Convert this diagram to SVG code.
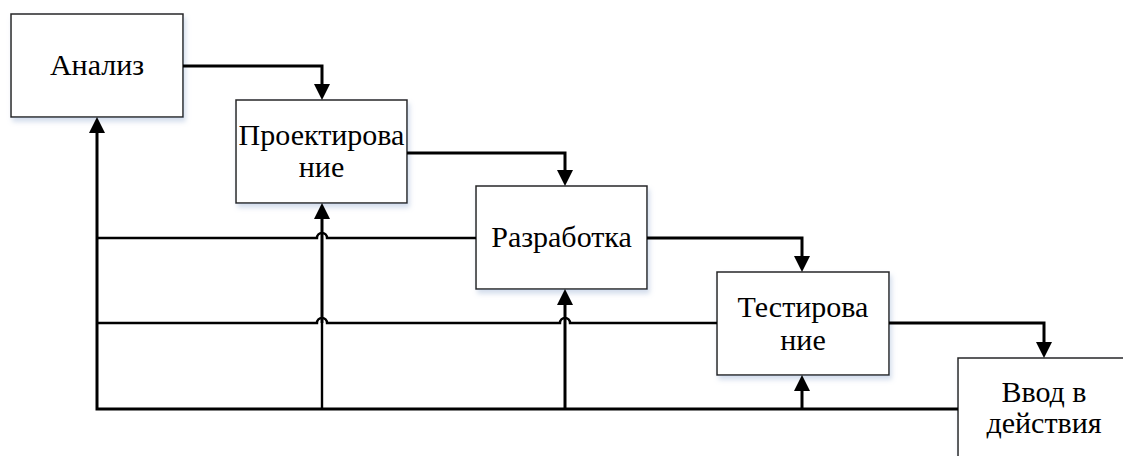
<svg xmlns="http://www.w3.org/2000/svg" width="1123" height="456" viewBox="0 0 1123 456">
  <defs>
    <filter id="shadow" x="-10%" y="-10%" width="130%" height="140%">
      <feDropShadow dx="2" dy="4" stdDeviation="2.5" flood-color="#9db4d4" flood-opacity="0.45"/>
    </filter>
    <marker id="arrow" markerUnits="userSpaceOnUse" markerWidth="17" markerHeight="17" refX="0" refY="8" orient="auto" overflow="visible">
      <path d="M0,0 L16,8 L0,16 Z" fill="#000"/>
    </marker>
    <style>
      .box { fill: #fff; stroke: #262626; stroke-width: 1.5; }
      .wire { fill: none; stroke: #000; stroke-linejoin: miter; }
      .thick { stroke-width: 3; }
      .thin { stroke-width: 2.4; }
    </style>
  </defs>

  <rect width="1123" height="456" fill="#fff"/>

  <!-- stages -->
  <g id="analysis">
    <rect class="box" x="11" y="14" width="172" height="103" filter="url(#shadow)"/>
    <text x="97" y="75" font-family="Liberation Serif, serif" font-size="30" text-anchor="middle">Анализ</text>
  </g>
  <g id="design">
    <rect class="box" x="236" y="100" width="171" height="103" filter="url(#shadow)"/>
    <text x="321.5" y="145" font-family="Liberation Serif, serif" font-size="30" text-anchor="middle">Проектирова</text>
    <text x="321.5" y="177" font-family="Liberation Serif, serif" font-size="30" text-anchor="middle">ние</text>
  </g>
  <g id="development">
    <rect class="box" x="476" y="186" width="171" height="103" filter="url(#shadow)"/>
    <text x="561.5" y="247" font-family="Liberation Serif, serif" font-size="30" text-anchor="middle">Разработка</text>
  </g>
  <g id="testing">
    <rect class="box" x="717" y="272" width="172" height="103" filter="url(#shadow)"/>
    <text x="803" y="317" font-family="Liberation Serif, serif" font-size="30" text-anchor="middle">Тестирова</text>
    <text x="803" y="350" font-family="Liberation Serif, serif" font-size="30" text-anchor="middle">ние</text>
  </g>
  <g id="deployment">
    <rect class="box" x="958" y="358" width="172" height="103" filter="url(#shadow)"/>
    <text x="1044" y="402" font-family="Liberation Serif, serif" font-size="30" text-anchor="middle">Ввод в</text>
    <text x="1044" y="433" font-family="Liberation Serif, serif" font-size="30" text-anchor="middle">действия</text>
  </g>

  <!-- connectors -->
  <g id="connectors">
    <!-- forward flow -->
    <path class="wire thick" d="M183,66 H322 V84" marker-end="url(#arrow)"/>
    <path class="wire thick" d="M407,153 H565 V170" marker-end="url(#arrow)"/>
    <path class="wire thick" d="M647,238 H802 V256" marker-end="url(#arrow)"/>
    <path class="wire thick" d="M889,323 H1044 V342" marker-end="url(#arrow)"/>

    <!-- feedback bus -->
    <path class="wire thick" d="M958,409 H97 V133" marker-end="url(#arrow)"/>
    <path class="wire thin" d="M322,409 V323"/>
    <path class="wire thick" d="M322,323 V219" marker-end="url(#arrow)"/>
    <path class="wire thick" d="M565,409 V305" marker-end="url(#arrow)"/>
    <path class="wire thick" d="M802,409 V391" marker-end="url(#arrow)"/>

    <!-- feedback taps with line hops -->
    <path class="wire thin" d="M97,238 H317 A5,5 0 0 1 327,238 H476"/>
    <path class="wire thin" d="M97,323 H317 A5,5 0 0 1 327,323 H560 A5,5 0 0 1 570,323 H717"/>
  </g>
</svg>
